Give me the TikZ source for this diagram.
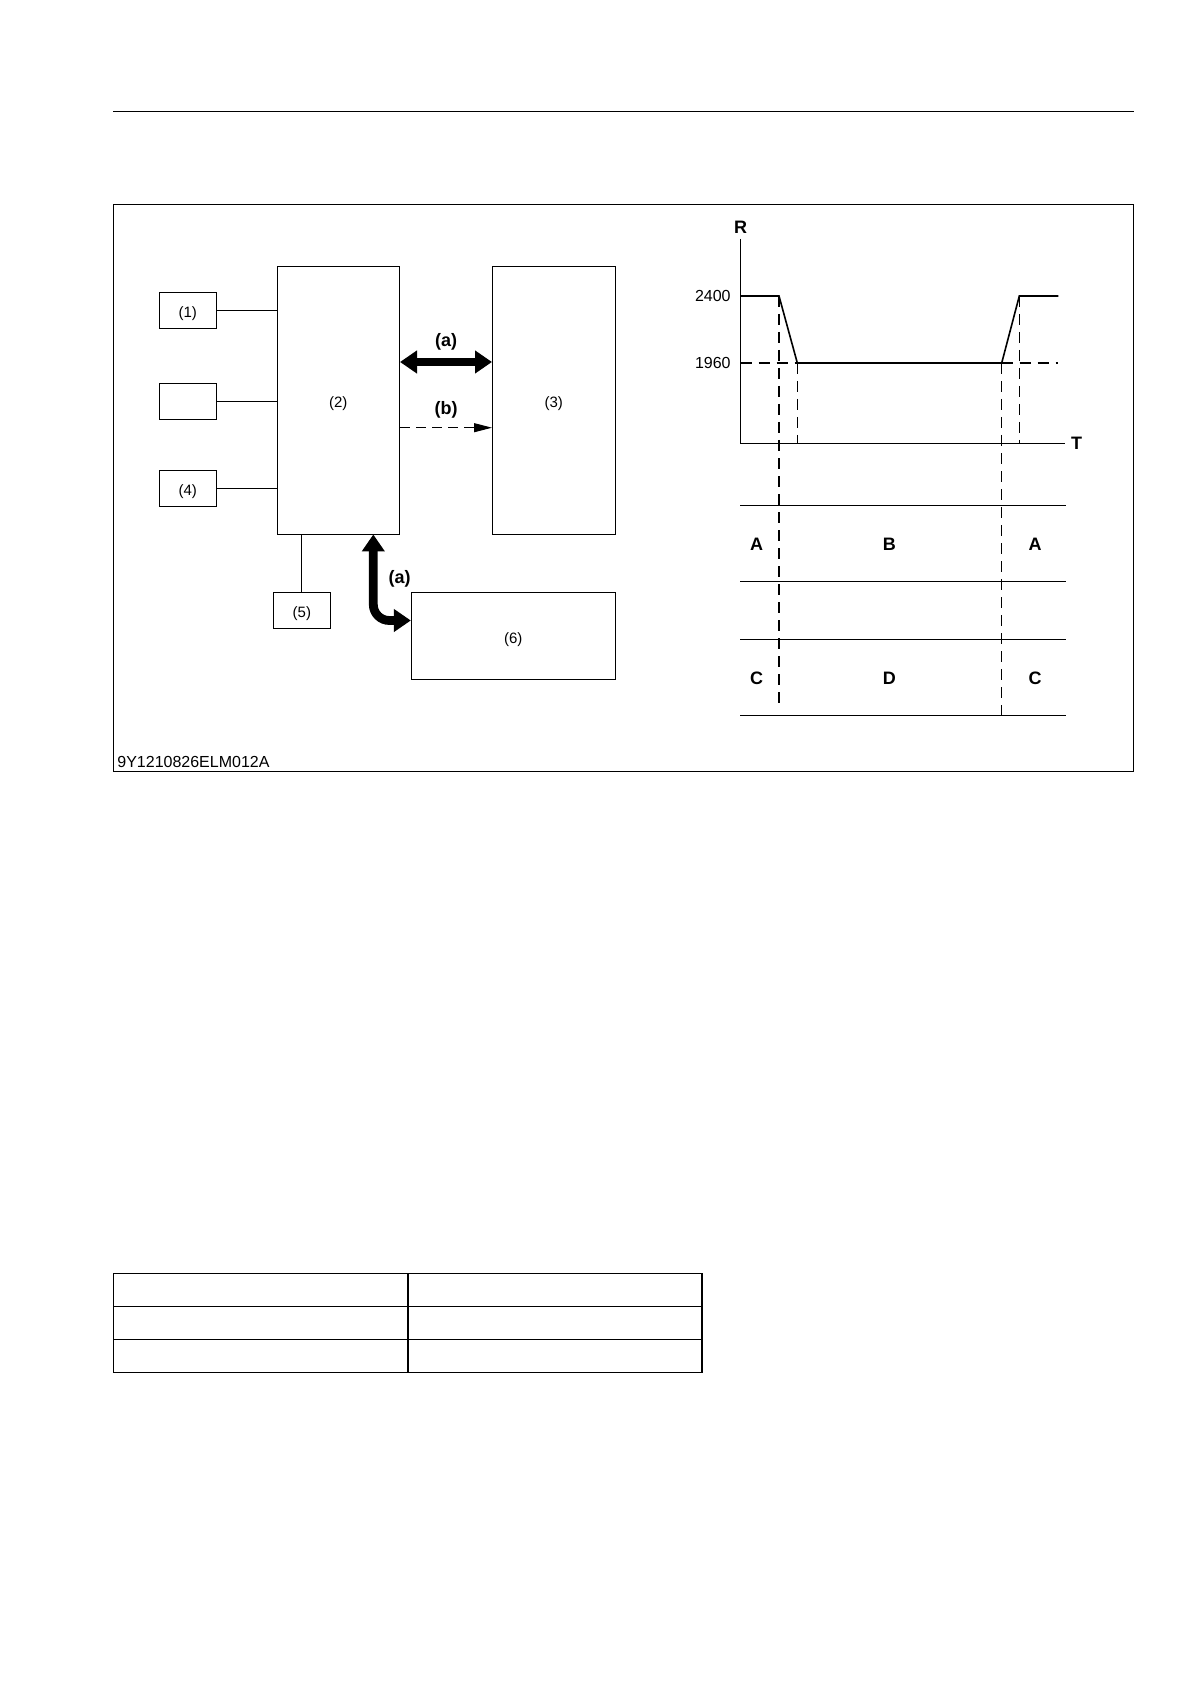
\documentclass[tikz,border=0pt]{standalone}
\usepackage{fontspec}
\setmainfont{Liberation Sans}
\usetikzlibrary{arrows.meta,positioning,calc}

\begin{document}
\begin{tikzpicture}[
    x=0.5pt, y=-0.5pt,
    box/.style={draw, line width=0.45pt, inner sep=0pt,
                text height=8.7pt, text depth=1.6pt,
                font=\fontsize{7.5}{9}\selectfont},
    small/.style={box, minimum width=28.5pt, minimum height=18pt},
    big/.style={box, minimum width=61.25pt, minimum height=134pt},
    fat/.style={line width=4.4pt,
                {Triangle[length=8.5pt,width=11pt]}-{Triangle[length=8.5pt,width=11pt]}},
    sig/.style={line width=0.5pt, dash pattern=on 5pt off 3pt,
                -{Triangle[length=9pt,width=4.5pt]}},
    lbl/.style={font=\fontsize{9}{10}\selectfont\bfseries, inner sep=0pt},
    num/.style={font=\fontsize{8}{9}\selectfont, anchor=east, inner sep=0pt},
    axis/.style={line width=0.6pt},
    curve/.style={line width=0.8pt},
    guide/.style={line width=0.6pt, dash pattern=on 5.5pt off 3.5pt},
    node distance=46pt
  ]
    \useasboundingbox (0,0) rectangle (1190,1684);

    % Page rule and frame
    \draw[line width=0.8pt] (113,111.7) -- (1134,111.7);
    \draw[line width=0.5pt] (113.3,205) rectangle (1133.7,771.5);
    \node[anchor=west, inner sep=0pt, font=\fontsize{8}{9}\selectfont] (code) at (117,761.5) {9Y1210826ELM012A};

    % Block diagram
    \node[big] (b2) at (338.3,400) {(2)};
    \node[big, right=of b2] (b3) {(3)};
    \node[small] (b1) at (187.8,310) {(1)};
    \node[small] (bx) at (187.8,401) {};
    \node[small] (b4) at (187.8,488.5) {(4)};
    \node[small, minimum width=28.8pt] (b5) at (301.9,610.7) {(5)};
    \node[box, minimum width=101.9pt, minimum height=43.3pt] (b6) at (513.2,636) {(6)};

    \draw[line width=0.45pt] (b1.east) -- (b1.east -| b2.west);
    \draw[line width=0.45pt] (bx.east) -- (bx.east -| b2.west);
    \draw[line width=0.45pt] (b4.east) -- (b4.east -| b2.west);
    \draw[line width=0.45pt] (b5.north) -- (b5.north |- b2.south);

    % Arrows
    \coordinate (ya) at (0,362);
    \coordinate (yb) at (0,427.7);
    \coordinate (bend) at (373.3,620.5);
    \draw[fat] (b2.east |- ya) -- (b3.west |- ya);
    \draw[sig] (b2.east |- yb) -- (b3.west |- yb);
    \draw[fat, rounded corners=8pt] (b2.south -| bend) |- (b6.west |- bend);
    \node[lbl] (la1) at (446,341.7) {(a)};
    \node[lbl] (lb) at (446,410) {(b)};
    \node[lbl] (la2) at (399.5,579.3) {(a)};

    % Speed chart
    \coordinate (o) at (740.5,443.5);
    \draw[axis] (740.5,239) -- (o) -- (1065,443.5);
    \node[lbl] (r) at (740.5,227.5) {R};
    \node[lbl] (t) at (1076.5,443.5) {T};
    \node[num] (v1) at (731,296) {2400};
    \node[num] (v2) at (731,363) {1960};
    \draw[guide] (740.5,363) -- (797.3,363);
    \draw[guide] (1001.7,363) -- (1058.3,363);
    \draw[curve] (740.5,296) -- (779,296) -- (797.3,363) -- (1001.7,363)
                 -- (1019.3,296) -- (1058.3,296);
    \draw[guide] (779,296) -- (779,707);
    \draw[guide] (797.3,363) -- (797.3,443.5);
    \draw[guide] (1001.7,363) -- (1001.7,715.3);
    \draw[guide] (1019.3,296) -- (1019.3,443.5);

    % Mode rows
    \draw[axis] (740,505.7) -- (1065.5,505.7);
    \draw[axis] (740,581.7) -- (1065.5,581.7);
    \draw[axis] (740,639.3) -- (1065.5,639.3);
    \draw[axis] (740,715.3) -- (1065.5,715.3);
    \node[lbl] (ma1) at (756.5,544) {A};
    \node[lbl] (mb) at (889.3,544) {B};
    \node[lbl] (ma2) at (1035,544) {A};
    \node[lbl] (mc1) at (756.5,678.3) {C};
    \node[lbl] (md) at (889.3,678.3) {D};
    \node[lbl] (mc2) at (1035,678.3) {C};

    % Empty table
    \draw[line width=0.6pt] (113.3,1273.3) rectangle (702,1372.3);
    \draw[line width=0.6pt] (113.3,1306.3) -- (702,1306.3);
    \draw[line width=0.6pt] (113.3,1339.3) -- (702,1339.3);
    \draw[line width=0.6pt] (408,1273.3) -- (408,1372.3);
  \end{tikzpicture}
\end{document}
